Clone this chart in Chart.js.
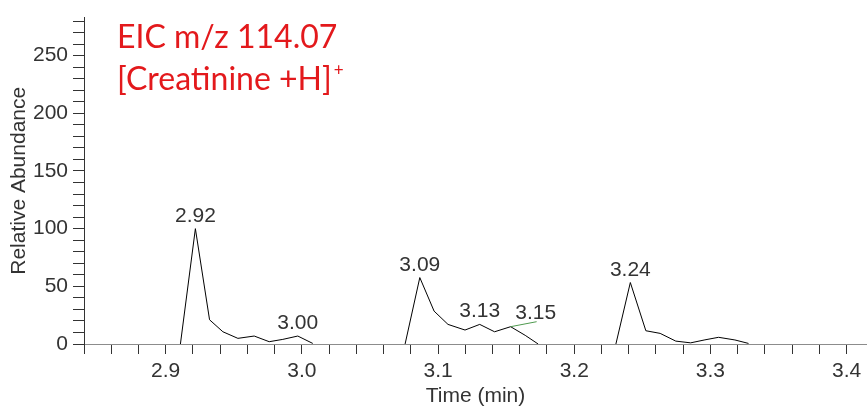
<!DOCTYPE html>
<html>
<head>
<meta charset="utf-8">
<script src="https://cdn.jsdelivr.net/npm/chart.js@4/dist/chart.umd.min.js"></script>
<style>
  html, body { margin: 0; padding: 0; background: #fff; }
  canvas { display: block; }
</style>
</head>
<body>
<canvas id="graphique" width="867" height="410"></canvas>
<script>
// EIC m/z 114.07 - chromatogramme de la créatinine protonée
// Valeurs (temps en min, abondance relative)

const tempsMin = [
  2.9108, 2.9218, 2.9322, 2.942, 2.953, 2.965, 2.976, 2.986, 2.997, 3.008,
  null,
  3.0758, 3.0866, 3.0971, 3.1073, 3.1198, 3.1306, 3.1415, 3.1533, 3.164, 3.1735,
  null,
  3.2306, 3.2412, 3.2526, 3.2631, 3.2746, 3.2855, 3.296, 3.306, 3.318, 3.328
];
const abondance = [
  0, 100, 21, 10.6, 4.9, 6.9, 2, 4, 6.9, 0.5,
  null,
  0, 57.6, 28.5, 17, 12.1, 17, 10.6, 15, 7.5, 0,
  null,
  0, 53.3, 11.5, 9.2, 2.5, 1, 3.6, 5.8, 3.5, 0.5
];
// Pics annotés sur le tracé
const picsAnnotes = [2.9218, 2.997, 3.0866, 3.1306, 3.1533, 3.2412, 3.3059];
const picsAvecRenvoi = [3.1533];

const titreLigne1 = 'EIC m/z 114.07';
const titreLigne2 = '[Creatinine +H]';
const titreExposant = '+';

const POLICE = '"Liberation Sans", Arial, sans-serif';

// points {x, y} ; null coupe la trace entre deux pics
const points = tempsMin.map((t, i) => (t === null ? { x: NaN, y: null } : { x: t, y: abondance[i] }));

// Titre rouge en haut à gauche
const pluginTitre = {
  id: 'titre',
  afterDraw(chart) {
    const ctx = chart.ctx;
    ctx.save();
    ctx.fillStyle = '#e3191c';
    ctx.textBaseline = 'alphabetic';
    ctx.textAlign = 'left';
    ctx.font = '32px Lato, "Open Sans", sans-serif';
    ctx.fillText(titreLigne1, 117, 48);
    ctx.fillText(titreLigne2, 117, 90);
    const largeur = ctx.measureText(titreLigne2).width;
    ctx.font = '17px Lato, "Open Sans", sans-serif';
    ctx.fillText(titreExposant, 117 + largeur + 2, 76);
    ctx.restore();
  }
};

// Étiquettes de temps au-dessus des pics
const pluginEtiquettes = {
  id: 'etiquettes',
  afterDatasetsDraw(chart) {
    const ctx = chart.ctx;
    const sx = chart.scales.x;
    const sy = chart.scales.y;
    ctx.save();
    ctx.font = '21px ' + POLICE;
    ctx.fillStyle = '#333';
    ctx.textAlign = 'center';
    ctx.textBaseline = 'alphabetic';
    picsAnnotes.forEach((t) => {
      const i = tempsMin.indexOf(t);
      const px = sx.getPixelForValue(t);
      const py = sy.getPixelForValue(abondance[i]);
      const texte = t.toFixed(2);
      if (picsAvecRenvoi.includes(t)) {
        ctx.strokeStyle = '#4f9a4f';
        ctx.lineWidth = 1;
        ctx.beginPath();
        ctx.moveTo(px, py);
        ctx.lineTo(px + 26, py - 5);
        ctx.stroke();
        ctx.fillText(texte, px + 25, py - 8);
      } else {
        ctx.fillText(texte, px, py - 7);
      }
    });
    ctx.restore();
  }
};

new Chart(document.getElementById('graphique').getContext('2d'), {
  type: 'line',
  data: {
    datasets: [{
      data: points,
      borderColor: '#000',
      borderWidth: 1,
      pointRadius: 0,
      tension: 0,
      spanGaps: false,
      fill: false
    }]
  },
  options: {
    responsive: false,
    animation: false,
    devicePixelRatio: 1,
    layout: { padding: { top: 16, right: 0, left: 0, bottom: 0 } },
    plugins: { legend: { display: false }, tooltip: { enabled: false } },
    scales: {
      x: {
        type: 'linear',
        min: 2.84,
        max: 3.415,
        afterFit: (s) => { s.height = 66; },
        border: { color: '#8c8c8c', width: 1 },
        grid: { drawOnChartArea: false, drawTicks: true, tickLength: 10, color: '#333' },
        ticks: {
          stepSize: 0.02,
          includeBounds: false,
          autoSkip: false,
          maxRotation: 0,
          padding: 5,
          color: '#333',
          font: { family: POLICE, size: 21 },
          callback: (v) => (Math.abs(v * 10 - Math.round(v * 10)) < 1e-6 ? v.toFixed(1) : '')
        },
        title: {
          display: true,
          text: 'Time (min)',
          color: '#333',
          font: { family: POLICE, size: 21 },
          padding: { top: 0, bottom: 1 }
        }
      },
      y: {
        min: 0,
        max: 283,
        afterFit: (s) => { s.width = 84; },
        border: { color: '#333', width: 1 },
        grid: { drawOnChartArea: false, drawTicks: true, tickLength: 11, color: '#333' },
        ticks: {
          stepSize: 10,
          includeBounds: false,
          autoSkip: false,
          padding: 5,
          color: '#333',
          font: { family: POLICE, size: 21 },
          callback: (v) => (v % 50 === 0 ? String(v) : '')
        },
        title: {
          display: true,
          text: 'Relative Abundance',
          color: '#333',
          font: { family: POLICE, size: 21 },
          padding: { top: 7, bottom: 0 }
        }
      }
    }
  },
  plugins: [pluginTitre, pluginEtiquettes]
});
</script>
</body>
</html>
